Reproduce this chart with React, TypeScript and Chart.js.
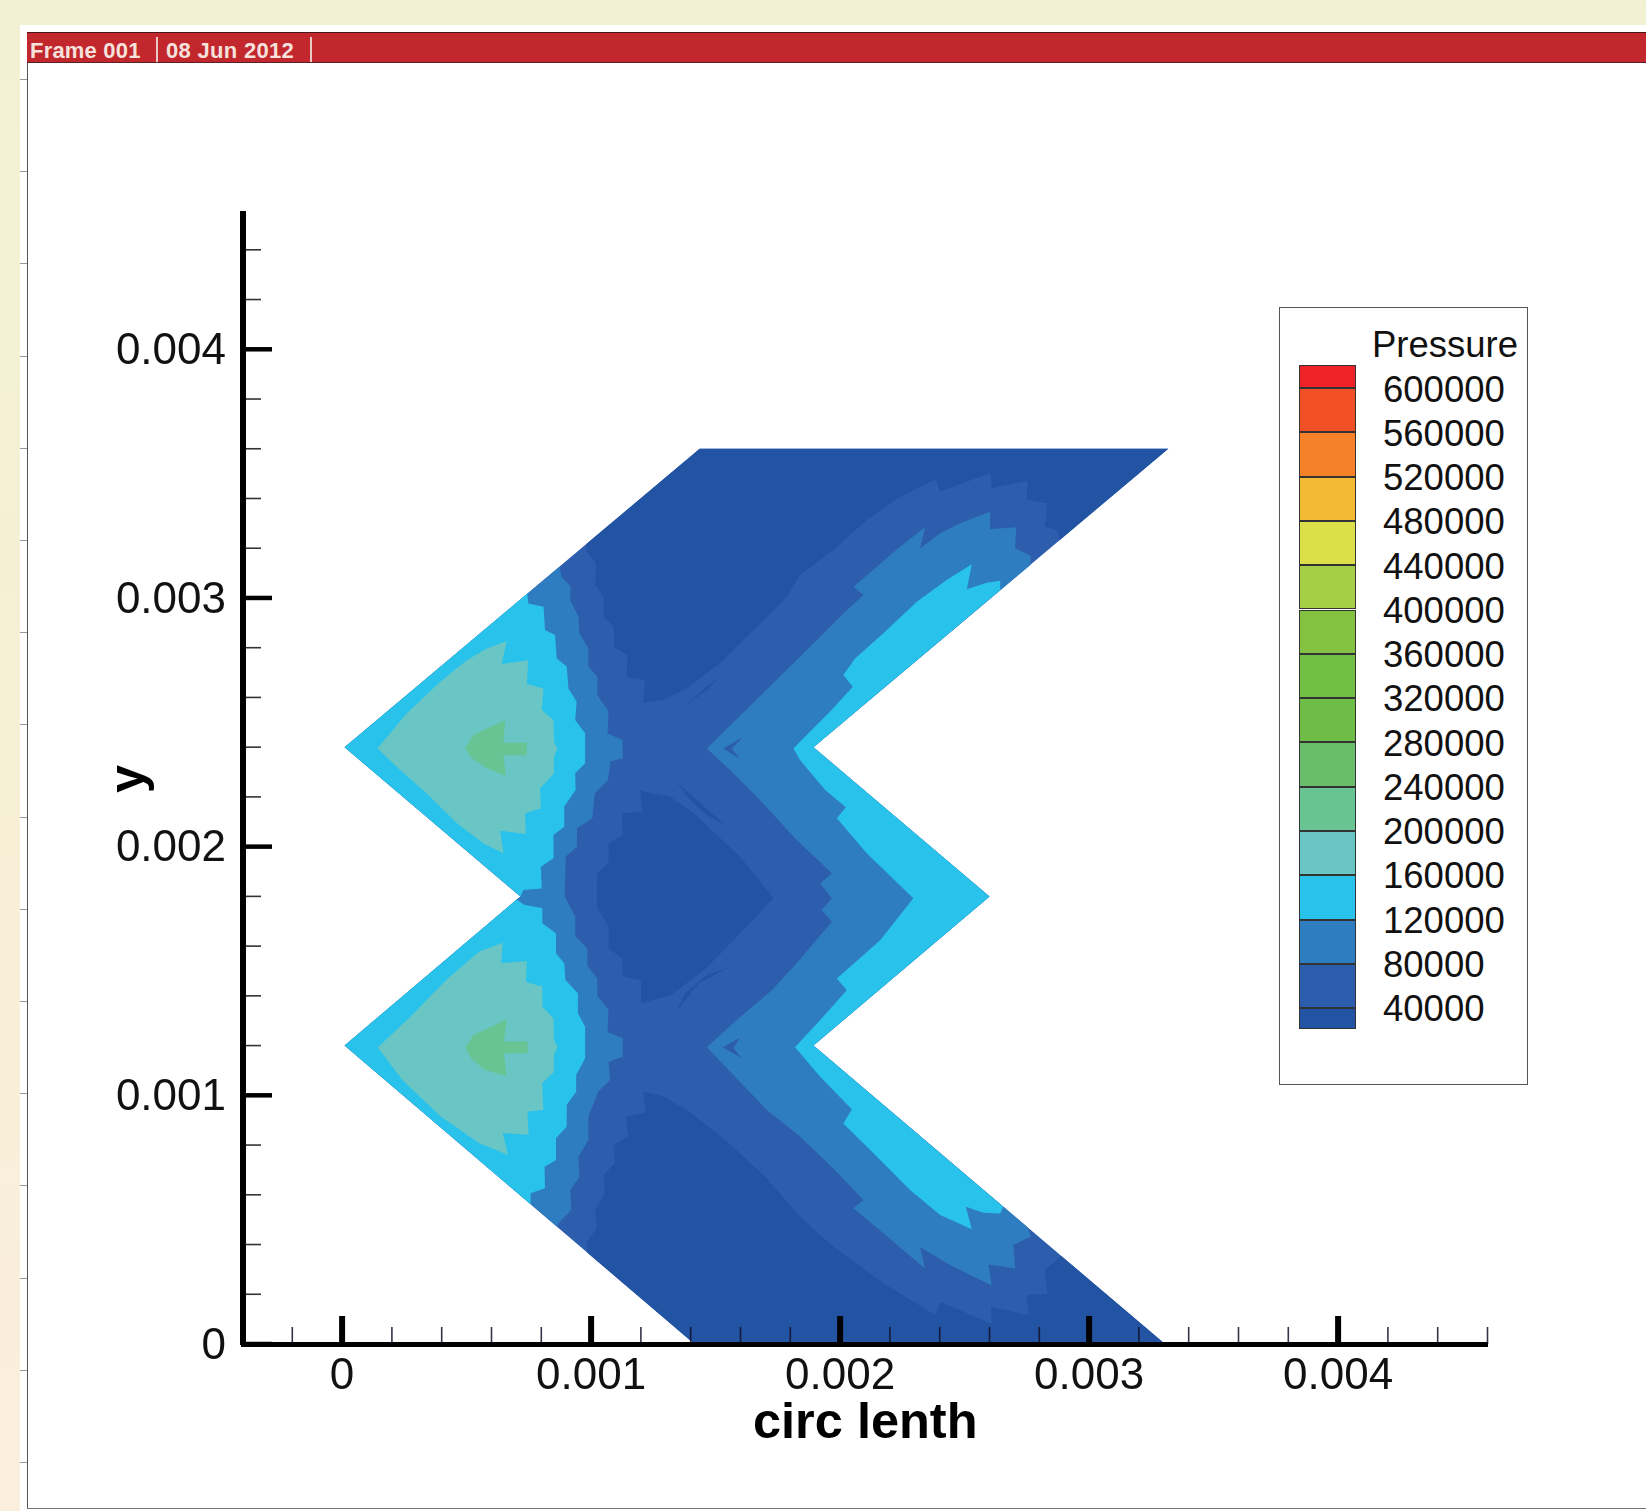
import React, { useEffect, useRef } from "react";
import { Chart, registerables } from "chart.js";

Chart.register(...registerables);

// All contour outlines are [circ length, y], in millimetres.
const MM = 0.001;

const outline = [[0.01,2.4],[1.436,3.6],[3.318,3.6],[1.893,2.4],[2.6,1.8],[1.893,1.2],[3.305,0],[1.415,0],[0.01,1.2],[0.716,1.8]];

const deepTop = [[0.981,3.217],[1.436,3.6],[3.318,3.6],[2.881,3.232],[2.873,3.270],[2.823,3.287],[2.833,3.380],[2.750,3.394],[2.752,3.471],[2.609,3.441],[2.605,3.504],[2.402,3.427],[2.382,3.477],[2.241,3.407],[2.107,3.313],[1.973,3.193],[1.839,3.092],[1.786,3.005],[1.652,2.871],[1.518,2.737],[1.384,2.636],[1.291,2.590],[1.210,2.579],[1.217,2.670],[1.143,2.681],[1.146,2.770],[1.092,2.804],[1.092,2.884],[1.050,2.925],[1.050,3.005],[1.016,3.052],[1.020,3.139],[0.983,3.186]];
const deepCentre = [[1.732,1.792],[1.598,1.960],[1.491,2.060],[1.411,2.134],[1.317,2.201],[1.197,2.225],[1.206,2.140],[1.123,2.134],[1.127,2.047],[1.070,2.013],[1.070,1.933],[1.023,1.892],[1.023,1.758],[1.070,1.678],[1.070,1.591],[1.123,1.551],[1.130,1.477],[1.200,1.464],[1.200,1.370],[1.322,1.404],[1.454,1.504],[1.586,1.638]];
const deepBottom = [[0.984,0.368],[0.984,0.412],[1.023,0.465],[1.016,0.539],[1.056,0.606],[1.050,0.680],[1.096,0.727],[1.090,0.800],[1.150,0.834],[1.137,0.914],[1.219,0.930],[1.210,1.015],[1.290,0.995],[1.384,0.941],[1.491,0.860],[1.598,0.767],[1.706,0.666],[1.839,0.512],[1.973,0.391],[2.174,0.244],[2.382,0.117],[2.402,0.170],[2.609,0.080],[2.606,0.150],[2.756,0.117],[2.750,0.197],[2.833,0.201],[2.823,0.298],[2.888,0.354],[3.305,0],[1.415,0]];
const sliverTop = [[1.380,2.567],[1.465,2.643],[1.518,2.683],[1.465,2.630],[1.411,2.590]];
const sliverCentreUp = [[1.344,2.257],[1.398,2.187],[1.465,2.127],[1.552,2.080],[1.491,2.127],[1.411,2.201]];
const sliverCentreDown = [[1.344,1.337],[1.432,1.451],[1.553,1.515],[1.465,1.484],[1.377,1.410]];
const sliverBottom = [[1.377,1.024],[1.438,0.968],[1.518,0.905],[1.465,0.948],[1.411,0.992]];

const bandLeft = [[0.873,3.126],[0.882,3.085],[0.918,3.045],[0.916,2.992],[0.949,2.925],[0.953,2.858],[0.989,2.797],[0.989,2.724],[1.025,2.683],[1.025,2.610],[1.070,2.543],[1.066,2.455],[1.126,2.429],[1.127,2.355],[1.077,2.342],[1.068,2.268],[1.014,2.214],[1.005,2.114],[0.943,2.074],[0.943,2.0],[0.898,1.960],[0.894,1.80],[0.936,1.72],[0.936,1.64],[0.985,1.59],[0.985,1.52],[1.025,1.47],[1.025,1.40],[1.070,1.343],[1.066,1.255],[1.127,1.229],[1.127,1.155],[1.070,1.135],[1.076,1.061],[1.029,1.015],[0.989,0.914],[0.989,0.820],[0.949,0.753],[0.953,0.673],[0.916,0.619],[0.920,0.539],[0.873,0.49],[0.862,0.472],[0.01,1.2],[0.716,1.8],[0.01,2.4]];
const bandRight = [[2.763,3.132],[2.767,3.169],[2.703,3.199],[2.707,3.284],[2.600,3.276],[2.602,3.347],[2.482,3.300],[2.402,3.260],[2.321,3.199],[2.341,3.284],[2.241,3.206],[2.147,3.126],[2.054,3.045],[2.094,3.012],[2.013,2.938],[1.920,2.844],[1.839,2.764],[1.465,2.395],[1.558,2.308],[1.679,2.187],[1.826,2.027],[1.967,1.893],[1.920,1.852],[1.967,1.792],[1.926,1.745],[1.967,1.698],[1.893,1.611],[1.813,1.517],[1.726,1.423],[1.585,1.303],[1.465,1.193],[1.706,0.941],[1.839,0.834],[1.973,0.706],[2.094,0.579],[2.054,0.546],[2.174,0.445],[2.341,0.304],[2.321,0.389],[2.442,0.318],[2.609,0.235],[2.596,0.320],[2.703,0.304],[2.696,0.398],[2.766,0.432],[2.753,0.469],[1.893,1.2],[2.6,1.8],[1.893,2.4]];
const notchSliverUpper = [[1.531,2.395],[1.612,2.442],[1.565,2.395],[1.598,2.352]];
const notchSliverLower = [[1.529,1.193],[1.598,1.233],[1.572,1.189],[1.605,1.149]];

const lightUpperLeft = [[0.01,2.4],[0.744,3.018],[0.748,2.978],[0.809,2.965],[0.815,2.871],[0.855,2.851],[0.862,2.757],[0.902,2.724],[0.909,2.636],[0.942,2.583],[0.936,2.509],[0.976,2.456],[0.976,2.335],[0.936,2.295],[0.938,2.228],[0.892,2.161],[0.892,2.080],[0.849,2.047],[0.849,1.953],[0.798,1.919],[0.802,1.832],[0.728,1.826],[0.716,1.8]];
const lightLowerLeft = [[0.01,1.2],[0.701,1.787],[0.731,1.766],[0.804,1.752],[0.804,1.692],[0.859,1.652],[0.859,1.571],[0.892,1.531],[0.897,1.464],[0.947,1.410],[0.947,1.330],[0.976,1.276],[0.976,1.149],[0.940,1.082],[0.940,1.015],[0.902,0.961],[0.902,0.874],[0.859,0.827],[0.859,0.740],[0.813,0.713],[0.815,0.626],[0.757,0.606],[0.757,0.562]];
const lightRight = [[2.643,3.032],[2.643,3.069],[2.589,3.061],[2.509,3.035],[2.529,3.136],[2.428,3.072],[2.308,2.985],[2.174,2.858],[2.060,2.757],[2.013,2.690],[2.051,2.643],[1.960,2.543],[1.839,2.422],[1.813,2.395],[1.839,2.348],[1.940,2.228],[2.023,2.158],[1.987,2.114],[2.107,1.973],[2.294,1.792],[2.161,1.624],[1.987,1.470],[2.027,1.423],[1.92,1.303],[1.819,1.193],[1.920,1.075],[2.047,0.944],[2.013,0.887],[2.134,0.767],[2.281,0.619],[2.402,0.519],[2.529,0.461],[2.505,0.552],[2.576,0.528],[2.643,0.525],[2.655,0.552],[1.893,1.2],[2.6,1.8],[1.893,2.4]];

const leafUpper = [[0.142,2.395],[0.260,2.536],[0.394,2.663],[0.501,2.750],[0.581,2.797],[0.661,2.827],[0.641,2.734],[0.748,2.750],[0.742,2.654],[0.809,2.636],[0.802,2.549],[0.849,2.509],[0.851,2.422],[0.865,2.395],[0.851,2.362],[0.851,2.295],[0.795,2.234],[0.799,2.154],[0.735,2.134],[0.738,2.051],[0.635,2.064],[0.648,1.973],[0.568,2.013],[0.461,2.094],[0.340,2.214],[0.233,2.308]];
const leafLower = [[0.143,1.192],[0.275,1.317],[0.418,1.464],[0.551,1.578],[0.645,1.614],[0.639,1.531],[0.742,1.540],[0.738,1.457],[0.804,1.437],[0.804,1.357],[0.849,1.309],[0.851,1.222],[0.865,1.195],[0.851,1.162],[0.851,1.095],[0.804,1.049],[0.808,0.941],[0.744,0.935],[0.749,0.841],[0.645,0.848],[0.667,0.760],[0.551,0.807],[0.396,0.915],[0.242,1.062]];
const arrowUpper = [[0.494,2.395],[0.527,2.449],[0.655,2.509],[0.648,2.418],[0.742,2.418],[0.742,2.368],[0.648,2.368],[0.657,2.284],[0.581,2.315],[0.521,2.355]];
const arrowLower = [[0.495,1.192],[0.528,1.243],[0.661,1.306],[0.650,1.216],[0.745,1.216],[0.745,1.169],[0.650,1.169],[0.661,1.078],[0.573,1.102],[0.518,1.149]];

const legendLevels = ["600000","560000","520000","480000","440000","400000","360000","320000","280000","240000","200000","160000","120000","80000","40000"];
const legendColors = ["#EE2227","#F15026","#F58229","#F2BB33","#DBE04A","#A6CF47","#84C341","#71BF44","#6DBD46","#69BE6C","#68C493","#6AC5C5","#29C2EB","#2F7DC1","#2D5EAE","#2353A3"];
const xTickLabels = ["0","0.001","0.002","0.003","0.004"];
const yTickLabels = ["0","0.001","0.002","0.003","0.004"];

const C_DEEP = legendColors[15];
const C_MED = legendColors[14];
const C_BAND = legendColors[13];
const C_LIGHT = legendColors[12];
const C_LEAF = legendColors[11];
const C_ARROW = legendColors[10];

// Painted bottom to top.
const layers: [number[][], string][] = [
  [outline, C_MED],
  [deepTop, C_DEEP],[deepCentre, C_DEEP],[deepBottom, C_DEEP],
  [sliverTop, C_DEEP],[sliverCentreUp, C_DEEP],[sliverCentreDown, C_DEEP],[sliverBottom, C_DEEP],
  [bandLeft, C_BAND],[bandRight, C_BAND],
  [notchSliverUpper, C_MED],[notchSliverLower, C_MED],
  [lightUpperLeft, C_LIGHT],[lightLowerLeft, C_LIGHT],[lightRight, C_LIGHT],
  [leafUpper, C_LEAF],[leafLower, C_LEAF],
  [arrowUpper, C_ARROW],[arrowLower, C_ARROW],
];

const sideTicks = [0,1,2,3,4,5,6,7,8,9,10,11,12,13,14,15];

const isMajor = (v: number) => Math.abs(v / MM - Math.round(v / MM)) < 1e-6;

const inwardTicks = {
  id: "inwardTicks",
  afterDatasetsDraw(chart: any) {
    const { ctx, scales, chartArea } = chart;
    ctx.save();
    for (const t of scales.x.ticks) {
      const p = scales.x.getPixelForValue(t.value);
      const maj = isMajor(t.value);
      ctx.strokeStyle = maj ? "#000" : "rgba(20,15,40,0.85)";
      ctx.lineWidth = maj ? 6 : 1.6;
      ctx.beginPath();
      ctx.moveTo(p, chartArea.bottom);
      ctx.lineTo(p, chartArea.bottom - (maj ? 28 : 17));
      ctx.stroke();
    }
    for (const t of scales.y.ticks) {
      const p = scales.y.getPixelForValue(t.value);
      const maj = isMajor(t.value);
      ctx.strokeStyle = maj ? "#000" : "#333";
      ctx.lineWidth = maj ? 4.5 : 1.6;
      ctx.beginPath();
      ctx.moveTo(chartArea.left, p);
      ctx.lineTo(chartArea.left + (maj ? 29 : 18), p);
      ctx.stroke();
    }
    ctx.restore();
  },
};

const family = "'Liberation Sans', Arial, sans-serif";
const titleFont = { family, size: 50.5, weight: "bold" as const };

export default function App() {
  const ref = useRef<HTMLCanvasElement>(null);
  useEffect(() => {
    const chart = new Chart(ref.current as HTMLCanvasElement, {
      type: "scatter",
      data: {
        datasets: layers.map(([pts, color], i) => ({
          data: [...pts, pts[0]].map(([x, y]) => ({ x: x * MM, y: y * MM })),
          showLine: true,
          fill: "shape",
          backgroundColor: color,
          borderColor: color,
          borderWidth: 0,
          pointRadius: 0,
          order: layers.length - i,
        })),
      },
      options: {
        animation: false,
        responsive: false,
        devicePixelRatio: 1,
        layout: { padding: { left: 0, top: 214, right: 158.5, bottom: 0 } },
        plugins: { legend: { display: false }, tooltip: { enabled: false } },
        scales: {
          x: {
            type: "linear",
            min: -0.000398,
            max: 0.0046,
            afterFit: (s: any) => { s.height = 167; },
            grid: { display: false, drawTicks: false },
            border: { display: true, color: "#000", width: 5, z: 1 },
            ticks: {
              stepSize: 0.0002,
              includeBounds: false,
              autoSkip: false,
              maxRotation: 0,
              padding: 6,
              color: "#111",
              font: { family, size: 44 },
              callback: (v: number) => (isMajor(v) ? xTickLabels[Math.round(v / MM)] ?? "" : ""),
            },
            title: { display: true, text: "circ lenth", color: "#000", font: titleFont, padding: { top: 0, bottom: 57 } },
          },
          y: {
            type: "linear",
            min: 0,
            max: 0.004544,
            afterFit: (s: any) => { s.width = 243; },
            grid: { display: false, drawTicks: false },
            border: { display: true, color: "#000", width: 6, z: 1 },
            ticks: {
              stepSize: 0.0002,
              includeBounds: false,
              autoSkip: false,
              padding: 17,
              color: "#111",
              // A small line height with an empty first line nudges the label down by half of it.
              font: { family, size: 44, lineHeight: 0.12 },
              callback: (v: number) => (isMajor(v) ? ["", yTickLabels[Math.round(v / MM)] ?? ""] : ""),
            },
            title: { display: true, text: "y", color: "#000", font: titleFont, padding: { top: 100, bottom: 0 } },
          },
        },
      },
      plugins: [inwardTicks],
    } as any);
    return () => chart.destroy();
  }, []);

  const abs = (l: number, t: number, w: number, h: number, extra: React.CSSProperties = {}): React.CSSProperties => ({
    position: "absolute", left: l, top: t, width: w, height: h, ...extra,
  });
  const legendTop = 388;
  const legendStep = 44.3;

  return (
    <div style={abs(0, 0, 1646, 1511, { overflow: "hidden", background: "linear-gradient(180deg,#F3F1D3 0%,#F6F0D6 50%,#FCEEDD 100%)" })}>
      <div style={abs(20, 25, 1626, 1486, { background: "#fff" })} />
      {sideTicks.map((k) => (
        <div key={k} style={abs(20, 79 + k * 92.2, 7, 1, { background: "#999" })} />
      ))}
      <div style={abs(27, 32, 1, 1477, { background: "#555" })} />
      <div style={abs(27, 1508, 1619, 1, { background: "#777" })} />
      <div style={abs(27, 32, 1619, 31, { background: "#C1272D", borderTop: "1px solid #4a1518", borderBottom: "1px solid #5a2225", boxSizing: "border-box" })} />
      <div style={{ position: "absolute", left: 30, top: 38, font: `bold 22px ${family}`, lineHeight: "26px", color: "#F6E1DC", whiteSpace: "nowrap", letterSpacing: 0.2 }}>Frame 001</div>
      <div style={abs(156, 37, 1.5, 25, { background: "#E9C9C6" })} />
      <div style={{ position: "absolute", left: 166, top: 38, font: `bold 22px ${family}`, lineHeight: "26px", color: "#F6E1DC", whiteSpace: "nowrap", letterSpacing: 0.3 }}>08 Jun 2012</div>
      <div style={abs(310, 37, 1.5, 25, { background: "#E9C9C6" })} />

      <canvas ref={ref} width={1646} height={1511} style={abs(0, 0, 1646, 1511, { display: "block" })} />

      <div style={abs(1279, 307, 249, 778, { border: "1px solid #555", boxSizing: "border-box", background: "#fff" })} />
      <div style={{ position: "absolute", left: 1372, top: 323, font: `36.5px ${family}`, lineHeight: "44px", color: "#111" }}>Pressure</div>
      {legendColors.map((c, i) => {
        const top = i === 0 ? 365 : legendTop + (i - 1) * legendStep;
        const bottom = i === legendColors.length - 1 ? 1029 : legendTop + i * legendStep;
        return (
          <div key={c} style={abs(1299, top, 57, bottom - top, { background: c, boxSizing: "border-box", border: "1px solid #333" })} />
        );
      })}
      {legendLevels.map((t, i) => (
        <div key={t} style={{ position: "absolute", left: 1383, top: 389.6 + i * 44.25 - 22, font: `36.5px ${family}`, lineHeight: "44px", color: "#111" }}>{t}</div>
      ))}
    </div>
  );
}
